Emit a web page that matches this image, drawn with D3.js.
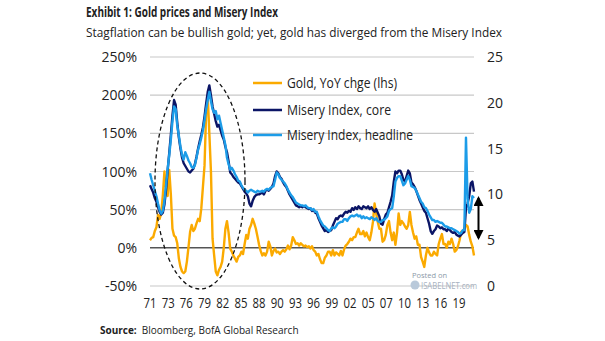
<!DOCTYPE html>
<html>
<head>
<meta charset="utf-8">
<script src="https://cdn.jsdelivr.net/npm/d3@7"></script>
<style>
  body { margin: 0; background: #fff; }
  svg { display: block; }
  text { font-family: "Open Sans", "DejaVu Sans", sans-serif; fill: #222; }
</style>
</head>
<body>
<svg id="chart" width="605" height="341"></svg>
<script>
// Quarterly series, first point is Q1 1971
const startYear = 1971;
const step = 0.25;

// Gold price, YoY change in % (left axis)
const goldYoY = [
  10, 13, 14, 22,   27, 43, 38, 45,   69, 100, 78, 68,   102, 70, 25, 16,
  14, 6, -14, -25,  -31, -33, -31, -18,  1, 21, 30, 22,  25, 32, 38, 35,
  52, 80, 108, 178,  198, 150, 100, 12,  -10, -31, -36, -29,  -25, -18, 0, 25,
  35, 20, -1, -5,   -10, -14, -18, -12,  -10, -5, -8, 5,   17, 12, 25, 30,
  38, 32, 25, 15,   4, -4, -10, -7,   -10, -5, 8, 2,   -10, -4, -1, -6,
  -5, -8, -5, -3,   -5, -2, 3, -2,   3, 14, 10, 5,   6, 3, 6, 4,
  2, 3, 1, 2,   -1, 2, -3, -5,   -10, -8, -15, -20,   -20, -13, -10, -5,
  -5, -10, -3, -10,   -6, -8, -10, -4,   -10, -2, 3, 5,   8, 12, 10, 14,
  14, 20, 25, 18,   18, 22, 15, 20,   14, 10, 20, 34,   58, 45, 34, 25,
  25, 8, 10, 17,   30, 35, 20, 10,   20, 4, 20, 45,   30, 35, 32, 28,
  25, 30, 47, 30,   20, 12, 15, 4,   4, -12, -18, -25,   -10, 0, -6, -10,
  -10, -5, -8, -10,   5, 12, 18, 5,   5, 0, 8, 5,   12, 5, -5, -3,
  2, 10, 21, 22,   25, 30, 28, 17,   8, 2, -10
];

// Misery Index, core: unemployment + core CPI (right axis)
const miseryCore = [
  11.0, 10.6, 10.2, 9.6,   9.2, 8.6, 8.1, 7.8,   8.0, 8.9, 10.5, 12.6,   14.5, 16.5, 18.6, 20.3,
  19.8, 17.8, 16.2, 15.0,   14.0, 13.4, 13.1, 12.8,   12.5, 12.4, 12.6, 12.8,   13.3, 14.1, 15.0, 15.8,
  16.5, 17.3, 18.5, 19.9,   21.2, 21.9, 20.8, 19.6,   18.8, 18.0, 17.4, 17.6,   17.0, 16.4, 16.0, 15.2,
  14.6, 13.6, 12.4, 12.2,   11.9, 11.7, 11.5, 11.3,   11.2, 10.9, 10.6, 10.3,   10.1, 9.8, 9.0, 8.7,
  9.3, 9.7, 9.9, 10.0,   10.0, 10.1, 10.2, 10.0,   10.4, 10.5, 10.4, 10.6,   10.8, 11.2, 12.0, 12.5,
  12.3, 11.9, 11.7, 11.3,   11.0, 10.8, 10.4, 10.0,   9.7, 9.4, 9.1, 8.8,   8.7, 8.6, 8.7, 8.6,
  8.7, 8.6, 8.5, 8.4,   8.5, 8.2, 8.3, 8.0,   7.9, 7.4, 7.0, 6.6,   6.3, 6.0, 6.1, 5.9,
  6.0, 6.1, 6.6, 7.0,   7.4, 7.3, 7.6, 7.7,   7.6, 7.9, 8.1, 8.0,   8.2, 8.1, 8.5, 8.3,
  8.6, 8.4, 8.7, 8.5,   8.4, 8.7, 8.6, 8.5,   8.7, 8.4, 8.6, 8.3,   8.1, 8.4, 8.0, 7.6,
  6.8, 6.7, 7.3, 7.8,   8.0, 8.6, 9.2, 9.9,   11.4, 12.5, 12.3, 12.6,   12.6, 12.2, 11.6, 11.4,
  12.0, 12.6, 12.3, 11.3,   11.1, 10.8, 10.4, 9.9,   9.4, 9.0, 8.6, 8.2,   8.0, 7.4, 6.8, 6.0,
  5.7, 6.0, 6.2, 6.6,   6.5, 6.3, 6.4, 6.2,   6.2, 6.0, 6.3, 6.1,   5.9, 5.8, 5.9, 5.6,
  5.5, 5.4, 5.6, 5.8,   5.9, 8.5, 9.0, 9.8,   11.2, 11.4, 10.3
];

// Misery Index, headline: unemployment + CPI (right axis)
const miseryHeadline = [
  12.3, 11.6, 11.0, 10.4,   9.8, 9.0, 8.3, 7.9,   8.2, 9.3, 11.0, 12.8,   14.3, 16.0, 18.0, 19.6,
  19.3, 17.5, 16.4, 15.2,   14.3, 13.8, 14.6, 14.2,   13.7, 13.4, 13.0, 12.9,   13.2, 14.0, 14.9, 15.5,
  16.2, 17.0, 18.1, 19.3,   20.3, 21.2, 20.2, 19.3,   18.9, 19.1, 18.2, 18.6,   17.8, 17.0, 16.2, 15.4,
  14.0, 13.3, 12.7, 12.9,   12.6, 12.2, 11.9, 11.5,   11.4, 11.0, 10.7, 10.5,   10.4, 10.2, 10.4, 10.5,
  10.4, 10.3, 10.2, 10.4,   10.3, 10.3, 10.4, 10.3,   10.5, 10.6, 10.5, 10.7,   10.8, 10.9, 11.6, 12.4,
  12.2, 11.8, 11.6, 11.4,   11.2, 10.9, 10.5, 10.2,   9.9, 9.7, 9.4, 9.1,   9.0, 8.9, 8.8, 8.8,
  8.7, 8.8, 8.6, 8.5,   8.5, 8.3, 8.4, 8.1,   8.1, 7.6, 7.2, 6.9,   6.6, 6.5, 6.3, 6.1,
  6.0, 6.3, 6.4, 6.3,   6.5, 6.8, 6.9, 7.0,   7.0, 7.3, 7.3, 7.1,   7.4, 7.6, 7.7, 7.6,
  7.7, 7.8, 7.6, 7.7,   7.4, 7.6, 7.4, 7.5,   7.4, 7.3, 7.5, 7.4,   7.2, 7.4, 7.1, 7.0,
  7.0, 7.2, 7.2, 7.4,   7.6, 8.2, 8.4, 8.5,   9.8, 11.4, 11.8, 12.0,   12.0, 11.5, 11.0, 11.2,
  11.6, 12.0, 11.6, 10.9,   10.8, 10.7, 10.4, 10.0,   9.6, 9.2, 9.0, 8.6,   8.5, 8.2, 7.8, 7.5,
  7.2, 7.2, 7.0, 7.1,   7.0, 6.9, 6.9, 6.7,   6.5, 6.5, 6.4, 6.3,   6.3, 6.2, 6.1, 6.0,
  5.9, 5.7, 5.8, 6.1,   6.1, 16.2, 9.5, 8.0,   8.4, 9.8, 9.6
];

const leftTicks = [-50, 0, 50, 100, 150, 200, 250];
const rightTicks = [0, 5, 10, 15, 20, 25];
const xTickLabels = ['71', '73', '76', '79', '82', '85', '88', '90', '93', '96',
                     '99', '02', '05', '07', '10', '13', '16', '19'];
const xTickMonths = 34; // category axis labels every 34 months

const legendItems = [
  { label: 'Gold, YoY chge (lhs)', color: '#fbaa00' },
  { label: 'Misery Index, core', color: '#0b1566' },
  { label: 'Misery Index, headline', color: '#1c9ce8' }
];

const svg = d3.select('#chart');

const x = d3.scaleLinear()
  .domain([startYear, startYear + (goldYoY.length - 1) * step])
  .range([150, 474]);
const yL = d3.scaleLinear().domain([-50, 250]).range([286, 57]);
const yR = d3.scaleLinear().domain([0, 25]).range([286, 57]);

// titles
svg.append('text')
  .attr('x', 86).attr('y', 17)
  .attr('font-size', 13.5).attr('font-weight', 700)
  .attr('textLength', 192).attr('lengthAdjust', 'spacingAndGlyphs')
  .text('Exhibit 1: Gold prices and Misery Index');
svg.append('text')
  .attr('x', 86).attr('y', 37)
  .attr('font-size', 13.5)
  .attr('textLength', 416).attr('lengthAdjust', 'spacingAndGlyphs')
  .text('Stagflation can be bullish gold; yet, gold has diverged from the Misery Index');

// gridlines
svg.append('g')
  .selectAll('line')
  .data(leftTicks)
  .join('line')
  .attr('x1', x.range()[0]).attr('x2', x.range()[1])
  .attr('y1', d => yL(d)).attr('y2', d => yL(d))
  .attr('stroke', d => d === 0 ? '#555' : '#c8c8c8')
  .attr('stroke-width', d => d === 0 ? 1.5 : 1.2);

// left axis labels
svg.append('g')
  .selectAll('text')
  .data(leftTicks)
  .join('text')
  .attr('x', 137).attr('y', d => yL(d))
  .attr('dy', '0.36em')
  .attr('text-anchor', 'end')
  .attr('font-size', 14)
  .text(d => d + '%');

// right axis labels
svg.append('g')
  .selectAll('text')
  .data(rightTicks)
  .join('text')
  .attr('x', 487).attr('y', d => yR(d))
  .attr('dy', '0.36em')
  .attr('font-size', 14)
  .text(d => d);

// bottom labels
svg.append('g')
  .selectAll('text')
  .data(xTickLabels)
  .join('text')
  .attr('x', (d, i) => x(startYear + i * xTickMonths / 12))
  .attr('y', 308)
  .attr('text-anchor', 'middle')
  .attr('font-size', 14)
  .attr('textLength', 13).attr('lengthAdjust', 'spacingAndGlyphs')
  .text(d => d);

// series
const series = [
  { values: goldYoY, y: yL, color: legendItems[0].color },
  { values: miseryCore, y: yR, color: legendItems[1].color },
  { values: miseryHeadline, y: yR, color: legendItems[2].color }
];

series.forEach(s => {
  const line = d3.line()
    .x((d, i) => x(startYear + i * step))
    .y(d => s.y(d));
  svg.append('path')
    .datum(s.values)
    .attr('d', line)
    .attr('fill', 'none')
    .attr('stroke', s.color)
    .attr('stroke-width', 2.4)
    .attr('stroke-linejoin', 'round');
});

// legend
const legend = svg.append('g');
legendItems.forEach((item, i) => {
  const ly = [83, 110, 135][i];
  legend.append('line')
    .attr('x1', 253).attr('x2', 282)
    .attr('y1', ly).attr('y2', ly)
    .attr('stroke', item.color).attr('stroke-width', 2.5);
  legend.append('text')
    .attr('x', 287).attr('y', ly)
    .attr('dy', '0.36em')
    .attr('font-size', 14)
    .attr('textLength', [110, 104, 126][i]).attr('lengthAdjust', 'spacingAndGlyphs')
    .text(item.label);
});

// stagflation era ellipse
svg.append('ellipse')
  .attr('cx', 200).attr('cy', 181)
  .attr('rx', 45).attr('ry', 108)
  .attr('fill', 'none')
  .attr('stroke', '#111')
  .attr('stroke-width', 1.3)
  .attr('stroke-dasharray', '4,3');

// double-headed arrow
const defs = svg.append('defs');
defs.append('marker')
  .attr('id', 'head')
  .attr('viewBox', '0 0 10 10')
  .attr('refX', 8).attr('refY', 5)
  .attr('markerWidth', 5).attr('markerHeight', 5)
  .attr('orient', 'auto-start-reverse')
  .append('path')
  .attr('d', 'M0,0 L10,5 L0,10 z')
  .attr('fill', '#000');

svg.append('line')
  .attr('x1', 478.5).attr('x2', 478.5)
  .attr('y1', 198).attr('y2', 238)
  .attr('stroke', '#000')
  .attr('stroke-width', 2)
  .attr('marker-start', 'url(#head)')
  .attr('marker-end', 'url(#head)');

// watermark
svg.append('text')
  .attr('x', 412).attr('y', 278)
  .attr('font-size', 7.5)
  .style('fill', '#8c99a8')
  .text('Posted on');
svg.append('circle')
  .attr('cx', 415).attr('cy', 285).attr('r', 4.5)
  .attr('fill', '#b9c9da');
svg.append('text')
  .attr('x', 421).attr('y', 288.5)
  .attr('font-size', 9)
  .attr('textLength', 56).attr('lengthAdjust', 'spacingAndGlyphs')
  .style('fill', '#a7b2bf')
  .text('ISABELNET.com');

// source line
const src = svg.append('text')
  .attr('x', 100).attr('y', 334)
  .attr('font-size', 10);
src.append('tspan').attr('font-weight', 700).text('Source:');
src.append('tspan').attr('dx', 5).text('Bloomberg, BofA Global Research');
</script>
</body>
</html>
